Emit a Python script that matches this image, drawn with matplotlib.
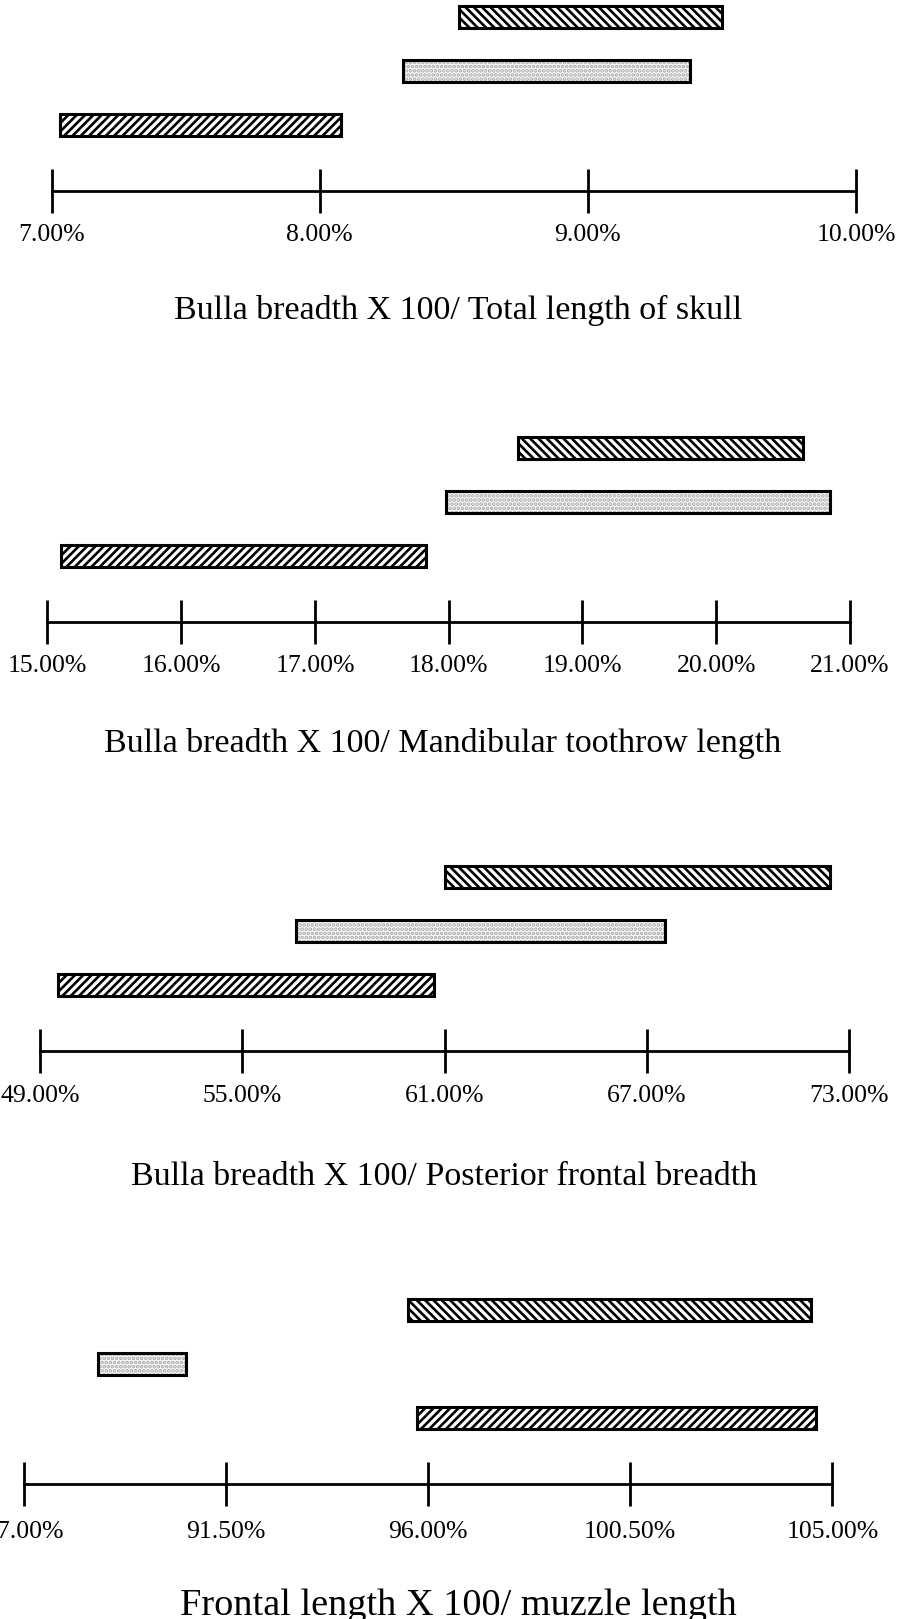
import matplotlib.pyplot as plt

plt.rcParams['font.family'] = ['Liberation Serif', 'DejaVu Serif']
plt.rcParams['hatch.linewidth'] = 1.9

W, H = 915, 1619

titles = [
    "Bulla breadth X 100/ Total length of skull",
    "Bulla breadth X 100/ Mandibular toothrow length",
    "Bulla breadth X 100/ Posterior frontal breadth",
    "Frontal length X 100/ muzzle length",
]
ticks = [
    [7.0, 8.0, 9.0, 10.0],
    [15.0, 16.0, 17.0, 18.0, 19.0, 20.0, 21.0],
    [49.0, 55.0, 61.0, 67.0, 73.0],
    [87.0, 91.5, 96.0, 100.5, 105.0],
]
tick_labels = [
    ["7.00%", "8.00%", "9.00%", "10.00%"],
    ["15.00%", "16.00%", "17.00%", "18.00%", "19.00%", "20.00%", "21.00%"],
    ["49.00%", "55.00%", "61.00%", "67.00%", "73.00%"],
    ["87.00%", "91.50%", "96.00%", "100.50%", "105.00%"],
]
# (low, high) ranges, one per panel
upper = [(8.52, 9.50), (18.52, 20.65), (61.0, 72.45), (95.55, 104.52)]
middle = [(8.31, 9.38), (17.98, 20.85), (56.6, 67.54), (88.66, 90.61)]
lower = [(7.03, 8.08), (15.10, 17.83), (49.52, 60.68), (95.76, 104.63)]

# layout in pixels: axis line y, first/last tick x, title centre x / baseline y
axis_y = [191, 621.7, 1051.3, 1483.5]
axis_x = [(51.6, 856.1), (47.5, 849.9), (40.3, 848.9), (23.8, 832.4)]
label_pad = [8, 8, 8, 11]
title_pos = [(458, 319), (443, 752), (444, 1184.5), (458, 1615)]
title_size = [24.5, 24.5, 24.5, 27.5]

row = 54.0
ylo, yhi = -1.22, 2.4
bar_h = 0.41

fig = plt.figure(figsize=(W / 100, H / 100), dpi=100)

for i in range(4):
    x0, x1 = axis_x[i]
    ax = fig.add_axes([x0 / W, 1 - axis_y[i] / H, (x1 - x0) / W, (yhi - ylo) * row / H])
    ax.set_xlim(ticks[i][0], ticks[i][-1])
    ax.set_ylim(ylo, yhi)
    ax.patch.set_visible(False)

    for y, (lo, hi), hatch in [(2, upper[i], '\\\\\\\\'), (0, lower[i], '////')]:
        ax.barh(y, hi - lo, left=lo, height=bar_h, facecolor='white',
                edgecolor='black', hatch=hatch, linewidth=2.2, clip_on=False)
    # stippled middle bar: grey dots first, black outline on top
    lo, hi = middle[i]
    ax.barh(1, hi - lo, left=lo, height=bar_h, facecolor='#fbfbfb',
            edgecolor='#a8a8a8', hatch='....', linewidth=0, clip_on=False)
    ax.barh(1, hi - lo, left=lo, height=bar_h, fill=False,
            edgecolor='black', linewidth=2.2, clip_on=False)

    for s in ['top', 'left', 'right']:
        ax.spines[s].set_visible(False)
    ax.spines['bottom'].set_linewidth(2.0)
    ax.set_yticks([])
    ax.set_xticks(ticks[i])
    ax.set_xticklabels(tick_labels[i])
    ax.tick_params(axis='x', direction='inout', length=32, width=2.0,
                   labelsize=18.5, pad=label_pad[i])

    tx, ty = title_pos[i]
    fig.text(tx / W, 1 - ty / H, titles[i], ha='center', va='baseline',
             fontsize=title_size[i])

fig.savefig('out.png', dpi=100)
